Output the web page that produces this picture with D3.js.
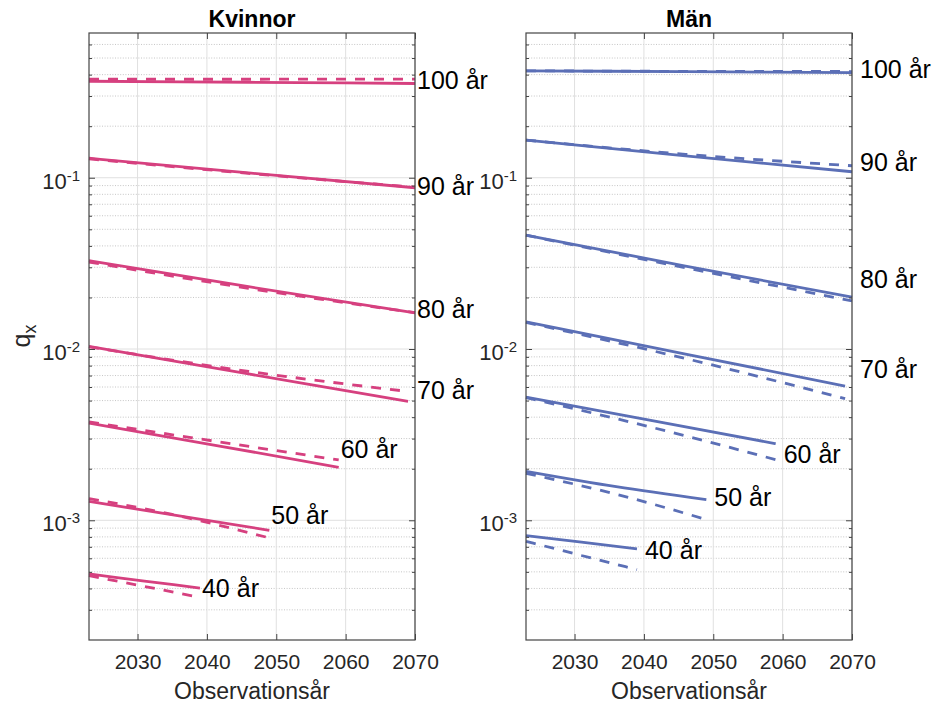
<!DOCTYPE html>
<html><head><meta charset="utf-8">
<script src="https://cdn.jsdelivr.net/npm/d3@7"></script>
<style>
body{margin:0;background:#fff;}
svg{display:block;font-family:"Liberation Sans",Arial,Helvetica,sans-serif;}
</style>
</head><body>
<svg id="chart" width="937" height="706"></svg>
<script>
// ---------- DATA ----------
const panelTitles = ["Kvinnor", "Män"];
const ages = [40, 50, 60, 70, 80, 90, 100];
const ageLabels = ["40 år", "50 år", "60 år", "70 år", "80 år", "90 år", "100 år"];
const xTicks = [2030, 2040, 2050, 2060, 2070];
const xDomain = [2023, 2070];
const yDomain = [2e-4, 0.7];
const yMajorTicks = [1e-3, 1e-2, 1e-1];
const yTickExponents = ["-3", "-2", "-1"];
const xLabel = "Observationsår";

// node years per age (first year, middle, last year)
const nodeYears = [
  [2023, 2031, 2039],
  [2023, 2036, 2049],
  [2023, 2041, 2059],
  [2023, 2046, 2069],
  [2023, 2046, 2070],
  [2023, 2046, 2070],
  [2023, 2046, 2070]
];
const labelYears = [2039, 2049, 2059, 2070, 2070, 2070, 2070];

// Kvinnor
const kvinnorSolid = [
  [0.000486, 0.000442, 0.000402],
  [0.00129, 0.00106, 0.000874],
  [0.00369, 0.00275, 0.00204],
  [0.01035, 0.00715, 0.00494],
  [0.0328, 0.0231, 0.01626],
  [0.130, 0.1067, 0.0874],
  [0.366, 0.361, 0.355]
];
const kvinnorDashed = [
  [0.000475, 0.000411, 0.000355],
  [0.00134, 0.00106, 0.000789],
  [0.00375, 0.0029, 0.00225],
  [0.0103, 0.0074, 0.00565],
  [0.0322, 0.0226, 0.0163],
  [0.129, 0.106, 0.088],
  [0.376, 0.376, 0.377]
];
const kvinnorLabelQ = [0.000403, 0.00108, 0.00261, 0.00578, 0.0172, 0.0895, 0.373];

// Män
const manSolid = [
  [0.000814, 0.000745, 0.000681],
  [0.00193, 0.00157, 0.00132],
  [0.00524, 0.00383, 0.0028],
  [0.01439, 0.00935, 0.00608],
  [0.0462, 0.0305, 0.0201],
  [0.166, 0.1341, 0.1084],
  [0.421, 0.416, 0.411]
];
const manDashed = [
  [0.000754, 0.000623, 0.000515],
  [0.00188, 0.00142, 0.00101],
  [0.0052, 0.0035, 0.00226],
  [0.0143, 0.0088, 0.00513],
  [0.0462, 0.0298, 0.0191],
  [0.166, 0.137, 0.1175],
  [0.421, 0.418, 0.417]
];
const manLabelQ = [0.000668, 0.00137, 0.00244, 0.0076, 0.0258, 0.124, 0.432];

// ---------- LAYOUT / STYLE ----------
const panelsCfg = [
  {title: panelTitles[0], left: 89, right: 415, solid: kvinnorSolid, dashed: kvinnorDashed, labelQ: kvinnorLabelQ, color: "#d6407f", labelOffset: 2},
  {title: panelTitles[1], left: 526, right: 852, solid: manSolid, dashed: manDashed, labelQ: manLabelQ, color: "#5b6fb6", labelOffset: 8}
];
const plotTop = 33, plotBottom = 640;
const axisColor = "#444";
const svg = d3.select("#chart");

panelsCfg.forEach(p => {
  const x = d3.scaleLinear().domain(xDomain).range([p.left, p.right]);
  const y = d3.scaleLog().domain(yDomain).range([plotBottom, plotTop]);
  const g = svg.append("g");

  const minor = [];
  for (let e = -4; e <= 0; e++) {
    for (let k = 2; k <= 9; k++) {
      const v = k * Math.pow(10, e);
      if (v > yDomain[0] * 1.0001 && v < yDomain[1] * 0.9999) minor.push(v);
    }
  }

  // grid
  const grid = g.append("g");
  grid.selectAll(".ymin").data(minor).join("line")
    .attr("x1", p.left).attr("x2", p.right)
    .attr("y1", d => y(d)).attr("y2", d => y(d))
    .attr("stroke", "#b8b8b8").attr("stroke-width", 0.8).attr("stroke-dasharray", "1,1.6");
  grid.selectAll(".ymaj").data(yMajorTicks).join("line")
    .attr("x1", p.left).attr("x2", p.right)
    .attr("y1", d => y(d)).attr("y2", d => y(d))
    .attr("stroke", "#e0e0e0").attr("stroke-width", 1);
  grid.selectAll(".xg").data(xTicks).join("line")
    .attr("x1", d => x(d)).attr("x2", d => x(d))
    .attr("y1", plotTop).attr("y2", plotBottom)
    .attr("stroke", "#e0e0e0").attr("stroke-width", 1);

  // lines
  const line = d3.line().x(d => x(d[0])).y(d => y(d[1])).curve(d3.curveMonotoneX);
  ages.forEach((a, i) => {
    const solidPts = nodeYears[i].map((yr, j) => [yr, p.solid[i][j]]);
    const dashPts = nodeYears[i].map((yr, j) => [yr, p.dashed[i][j]]);
    g.append("path").attr("d", line(solidPts)).attr("fill", "none")
      .attr("stroke", p.color).attr("stroke-width", 2.8);
    g.append("path").attr("d", line(dashPts)).attr("fill", "none")
      .attr("stroke", p.color).attr("stroke-width", 2.8).attr("stroke-dasharray", "10,9");
  });

  // box
  g.append("rect").attr("x", p.left).attr("y", plotTop)
    .attr("width", p.right - p.left).attr("height", plotBottom - plotTop)
    .attr("fill", "none").attr("stroke", axisColor).attr("stroke-width", 1.2);

  // x axes (ticks inside)
  const xb = g.append("g").attr("transform", `translate(0,${plotBottom})`)
    .call(d3.axisBottom(x).tickValues(xTicks).tickSizeInner(-6).tickSizeOuter(0).tickPadding(14).tickFormat(d3.format("d")));
  xb.select(".domain").remove();
  xb.selectAll("line").attr("stroke", axisColor);
  xb.selectAll("text").attr("font-size", 21).attr("fill", "#262626")
    .attr("font-family", '"Liberation Sans",Arial,sans-serif');
  const xt = g.append("g").attr("transform", `translate(0,${plotTop})`)
    .call(d3.axisTop(x).tickValues(xTicks).tickSizeInner(-6).tickSizeOuter(0).tickFormat(""));
  xt.select(".domain").remove();
  xt.selectAll("line").attr("stroke", axisColor);

  // y axes (ticks inside, left and right)
  [[d3.axisLeft, p.left], [d3.axisRight, p.right]].forEach(([ax, pos]) => {
    const gm = g.append("g").attr("transform", `translate(${pos},0)`)
      .call(ax(y).tickValues(yMajorTicks).tickSizeInner(-6).tickSizeOuter(0).tickFormat(""));
    gm.select(".domain").remove();
    gm.selectAll("line").attr("stroke", axisColor);
    const gn = g.append("g").attr("transform", `translate(${pos},0)`)
      .call(ax(y).tickValues(minor).tickSizeInner(-3).tickSizeOuter(0).tickFormat(""));
    gn.select(".domain").remove();
    gn.selectAll("line").attr("stroke", axisColor);
  });

  // y tick labels 10^e
  yMajorTicks.forEach((v, i) => {
    const t = g.append("text").attr("x", p.left - 9).attr("y", y(v) + 11)
      .attr("text-anchor", "end").attr("font-size", 22).attr("fill", "#262626");
    t.append("tspan").text("10");
    t.append("tspan").attr("font-size", 15).attr("dy", -8).text(yTickExponents[i]);
  });

  // title
  g.append("text").attr("x", (p.left + p.right) / 2).attr("y", 27)
    .attr("text-anchor", "middle").attr("font-size", 23).attr("font-weight", "bold")
    .attr("fill", "#000").text(p.title);

  // x label
  g.append("text").attr("x", (p.left + p.right) / 2).attr("y", 699)
    .attr("text-anchor", "middle").attr("font-size", 23).attr("fill", "#262626").text(xLabel);

  // age labels
  ages.forEach((a, i) => {
    g.append("text").attr("x", x(labelYears[i]) + p.labelOffset).attr("y", y(p.labelQ[i]))
      .attr("dy", "0.36em").attr("font-size", 25).attr("fill", "#000").text(ageLabels[i]);
  });
});

// y label q_x
const ql = svg.append("text").attr("transform", "translate(30,336) rotate(-90)")
  .attr("text-anchor", "middle").attr("font-size", 25).attr("fill", "#262626");
ql.append("tspan").text("q");
ql.append("tspan").attr("font-size", 18).attr("dy", 6).text("x");
</script>
</body></html>
